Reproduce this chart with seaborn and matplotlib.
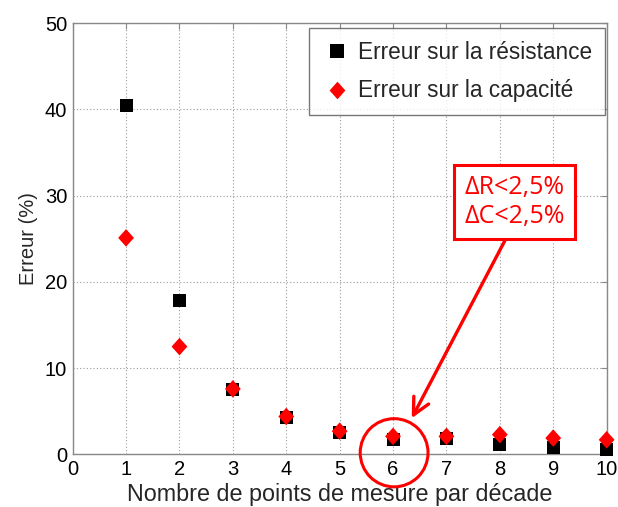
import numpy as np
import pandas as pd
import seaborn as sns
import matplotlib.pyplot as plt
from matplotlib.patches import Ellipse
from matplotlib.markers import MarkerStyle
from matplotlib.path import Path

points = [1, 2, 3, 4, 5, 6, 7, 8, 9, 10]
err_resistance = [40.4, 17.8, 7.5, 4.3, 2.6, 1.7, 1.9, 1.1, 0.8, 0.6]
err_capacite = [25.1, 12.5, 7.6, 4.4, 2.7, 2.1, 2.1, 2.3, 1.9, 1.7]
labels = ["Erreur sur la résistance", "Erreur sur la capacité"]

df = pd.DataFrame({
    "x": points * 2,
    "err": err_resistance + err_capacite,
    "serie": [labels[0]] * len(points) + [labels[1]] * len(points),
})

sns.set_style("white")
plt.rcParams["font.family"] = ["Liberation Sans", "DejaVu Sans"]

# diamond a little taller than wide, used for the capacitance series
diamond = MarkerStyle(Path([(0, 1), (0.9, 0), (0, -1), (-0.9, 0), (0, 1)],
                           [Path.MOVETO, Path.LINETO, Path.LINETO,
                            Path.LINETO, Path.CLOSEPOLY]))

fig = plt.figure(figsize=(6.18, 5.07), dpi=100)
ax = fig.add_axes([0.1176, 0.1036, 0.864, 0.851])

sns.scatterplot(data=df, x="x", y="err", hue="serie", style="serie",
                palette={labels[0]: "black", labels[1]: "#ff0000"},
                markers={labels[0]: "s", labels[1]: diamond},
                size="serie", sizes={labels[0]: 88, labels[1]: 160},
                edgecolor="none", linewidth=0, ax=ax, zorder=3, clip_on=False)

ax.set_xlim(0, 10)
ax.set_ylim(0, 50)
ax.set_xticks(range(0, 11))
ax.set_yticks(range(0, 51, 10))
ax.grid(True, color="#9a9a9a", linestyle=(0, (1, 2)), linewidth=0.8)
for s in ax.spines.values():
    s.set_color("#888888")
    s.set_linewidth(1.0)
ax.tick_params(direction="in", top=True, right=True, length=4,
               color="#888888", labelsize=14.5, labelcolor="black", pad=4)
ax.set_xlabel("Nombre de points de mesure par décade", fontsize=16.8,
              labelpad=3)
ax.set_ylabel("Erreur (%)", fontsize=14.5, labelpad=5)

leg = ax.legend(loc="upper right", fontsize=16.3, frameon=True, fancybox=False,
                edgecolor="#555555", borderpad=0.55, handletextpad=0.25,
                labelspacing=0.7, handlelength=1.4, borderaxespad=0,
                bbox_to_anchor=(0.997, 0.988))
leg.get_frame().set_linewidth(1.0)

red = "#ff0000"
ax.text(8.27, 29.26, "ΔR<2,5%\nΔC<2,5%", color=red, fontsize=18,
        family=["Open Sans", "DejaVu Sans"], ha="center", va="center",
        linespacing=1.2,
        bbox=dict(boxstyle="square,pad=0.42", facecolor="white",
                  edgecolor=red, linewidth=2.2), zorder=5)
ax.annotate("", xy=(6.35, 4.2), xytext=(8.1, 24.85),
            arrowprops=dict(arrowstyle="->,head_length=0.6,head_width=0.3",
                            mutation_scale=20, color=red, lw=2.4,
                            shrinkA=0, shrinkB=0), zorder=5)
ax.add_patch(Ellipse((6.02, 0.2), 1.27, 7.9, fill=False, edgecolor=red,
                     linewidth=2.2, clip_on=False, zorder=5))

fig.savefig("out.png", dpi=100)
